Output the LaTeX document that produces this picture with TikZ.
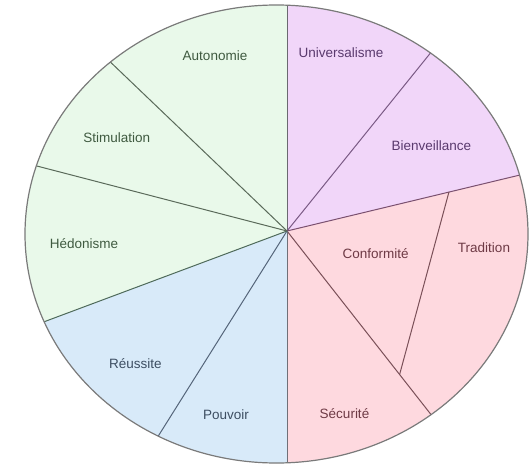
\documentclass[tikz,border=0pt]{standalone}
\usepackage{fontspec}
\setmainfont{Liberation Sans}
\usepackage{tikz}
\usetikzlibrary{calc}

\definecolor{greenFill}{HTML}{E9F9EA}
\definecolor{purpleFill}{HTML}{F1D6F9}
\definecolor{pinkFill}{HTML}{FED9DF}
\definecolor{blueFill}{HTML}{D8EAF9}
\definecolor{greenText}{HTML}{3F5A40}
\definecolor{purpleText}{HTML}{5A3A6E}
\definecolor{pinkText}{HTML}{6E3A45}
\definecolor{blueText}{HTML}{3D4E62}
\definecolor{rimLine}{HTML}{7A7A7A}

\tikzset{
  label/.style={font=\fontsize{13.5}{16}\selectfont, inner sep=1pt},
  spoke/.style={line width=1pt},
}

\begin{document}
\begin{tikzpicture}[x=1pt,y=-1pt]
    \useasboundingbox (0,0) rectangle (531,466);

    % hub and rim points
    \coordinate (hub) at (287,231);
    \coordinate (up) at (287,5);
    \coordinate (ub) at (430.7,52.7);
    \coordinate (bt) at (520,175);
    \coordinate (st) at (432.3,416.2);
    \coordinate (dn) at (287,463);
    \coordinate (pr) at (158.3,436);
    \coordinate (rh) at (44.3,321.7);
    \coordinate (hs) at (35.7,165.7);
    \coordinate (sa) at (111.7,63.3);

    \begin{scope}
        \clip (276.5,234) ellipse [x radius=251.5, y radius=229];

        % sectors
        \fill[purpleFill] (hub) -- ($(hub)!3!(up)$) -| ($(hub)!3!(bt)$) -- cycle;
        \fill[pinkFill] (hub) -- ($(hub)!3!(bt)$) |- ($(hub)!3!(dn)$) -- cycle;
        \fill[blueFill] (hub) -- ($(hub)!3!(dn)$) -| ($(hub)!3!(rh)$) -- cycle;
        \fill[greenFill] (hub) -- ($(hub)!3!(rh)$) |- ($(hub)!3!(up)$) -- cycle;

        % spokes
        \foreach \p/\c in {up/6A6A70, ub/7A5A85, bt/7A5070, st/7A5058,
                           dn/707078, pr/55657A, rh/4E6A5A, hs/5A6A5A, sa/5A6A5A}
        {
            \definecolor{spokeCol}{HTML}{\c}
            \draw[spoke, spokeCol] (hub) -- ($(hub)!1.2!(\p)$);
        }
        \definecolor{spokeCol}{HTML}{7A5058}
        \draw[spoke, spokeCol] ($(hub)!0.695!(bt)$) -- ($(hub)!0.775!(st)$);
    \end{scope}

    \draw[line width=1.2pt, rimLine] (276.5,234) ellipse [x radius=251.5, y radius=229];

    % labels
    \node[label, greenText] (autonomie) at (215,56) {Autonomie};
    \node[label, purpleText] (universalisme) at (341,52.3) {Universalisme};
    \node[label, greenText] (stimulation) at (116.8,137.7) {Stimulation};
    \node[label, purpleText] (bienveillance) at (431.5,145.7) {Bienveillance};
    \node[label, greenText] (hedonisme) at (84,243.3) {Hédonisme};
    \node[label, pinkText] (conformite) at (375.6,253.3) {Conformité};
    \node[label, pinkText] (tradition) at (484,247.3) {Tradition};
    \node[label, blueText] (reussite) at (135.4,363.3) {Réussite};
    \node[label, blueText] (pouvoir) at (226,415) {Pouvoir};
    \node[label, pinkText] (securite) at (344.5,413.3) {Sécurité};
\end{tikzpicture}
\end{document}
